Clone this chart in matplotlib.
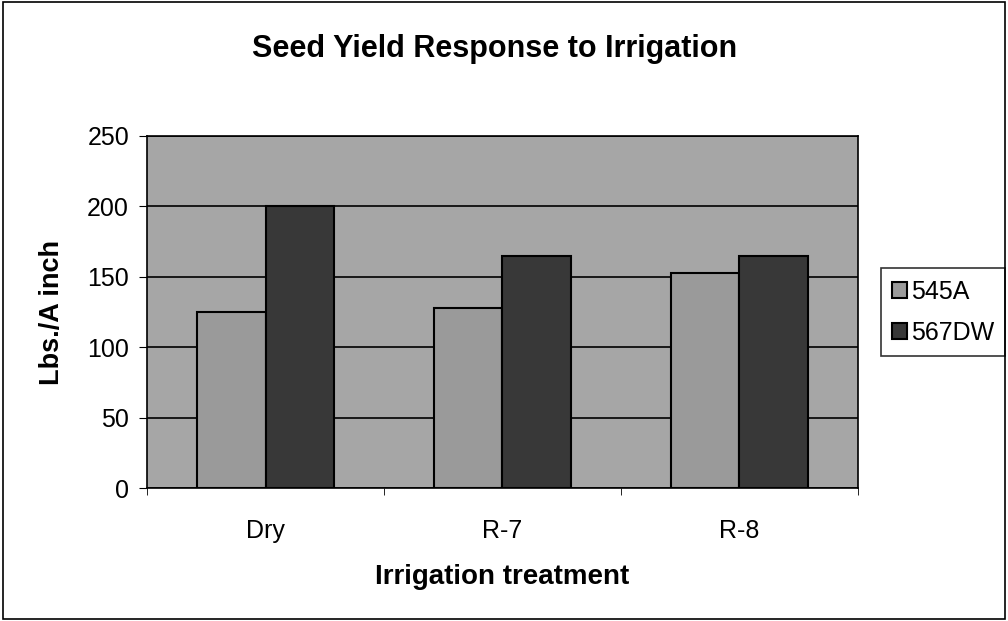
import numpy as np
import matplotlib
matplotlib.use("Agg")
from matplotlib import pyplot as plt
from matplotlib.patches import Rectangle

plt.rcParams['font.family'] = ['Liberation Sans', 'DejaVu Sans']

categories = ['Dry', 'R-7', 'R-8']
series_names = ['545A', '567DW']
yield_545a = [125, 128, 153]
yield_567dw = [200, 165, 165]
y_ticks = [0, 50, 100, 150, 200, 250]

fig = plt.figure(figsize=(10.08, 6.21), dpi=100)
fig.patch.set_facecolor('white')
# outer chart border
fig.add_artist(Rectangle((0.003, 0.004), 0.994, 0.992, transform=fig.transFigure,
                         fill=False, edgecolor='black', linewidth=1.2))

ax = fig.add_axes([0.146, 0.214, 0.705, 0.567])
ax.set_facecolor('#a6a6a6')

x = np.arange(len(categories))
width = 0.29
ax.bar(x - width / 2, yield_545a, width, color='#9a9a9a', edgecolor='black',
       linewidth=1.5, label=series_names[0], zorder=3)
ax.bar(x + width / 2, yield_567dw, width, color='#383838', edgecolor='black',
       linewidth=1.5, label=series_names[1], zorder=3)

ax.set_xlim(-0.5, len(categories) - 0.5)
ax.set_ylim(0, 250)
ax.set_yticks(y_ticks)
ax.yaxis.grid(True, color='black', linewidth=1.2, zorder=1)
ax.set_axisbelow(True)

ax.set_xticks(x)
ax.set_xticklabels(categories, fontsize=18)
ax.set_xticks(np.arange(-0.5, len(categories)), minor=True)
ax.tick_params(axis='x', which='major', length=0, pad=22)
ax.tick_params(axis='x', which='minor', length=5, direction='out', color='black')
ax.tick_params(axis='y', labelsize=18, length=6, direction='out', pad=7)

for s in ax.spines.values():
    s.set_color('black')
    s.set_linewidth(1.2)

ax.set_ylabel('Lbs./A inch', fontsize=19.5, fontweight='bold')
ax.yaxis.set_label_coords(-0.134, 0.5)
ax.yaxis.label.set_va('center')
ax.set_xlabel('Irrigation treatment', fontsize=20, fontweight='bold')
ax.xaxis.set_label_coords(0.5, -0.253)
ax.xaxis.label.set_va('center')
fig.text(0.491, 0.921, 'Seed Yield Response to Irrigation', ha='center', va='center',
         fontsize=22, fontweight='bold')

leg = ax.legend(loc='upper left', bbox_to_anchor=(0.874, 0.568),
                bbox_transform=fig.transFigure, fontsize=18,
                frameon=True, fancybox=False, edgecolor='black', handlelength=0.6,
                handleheight=0.6, handletextpad=0.15, borderpad=0.45, labelspacing=0.7,
                borderaxespad=0)
leg.get_frame().set_linewidth(1.2)

fig.savefig('out.png', dpi=100)
